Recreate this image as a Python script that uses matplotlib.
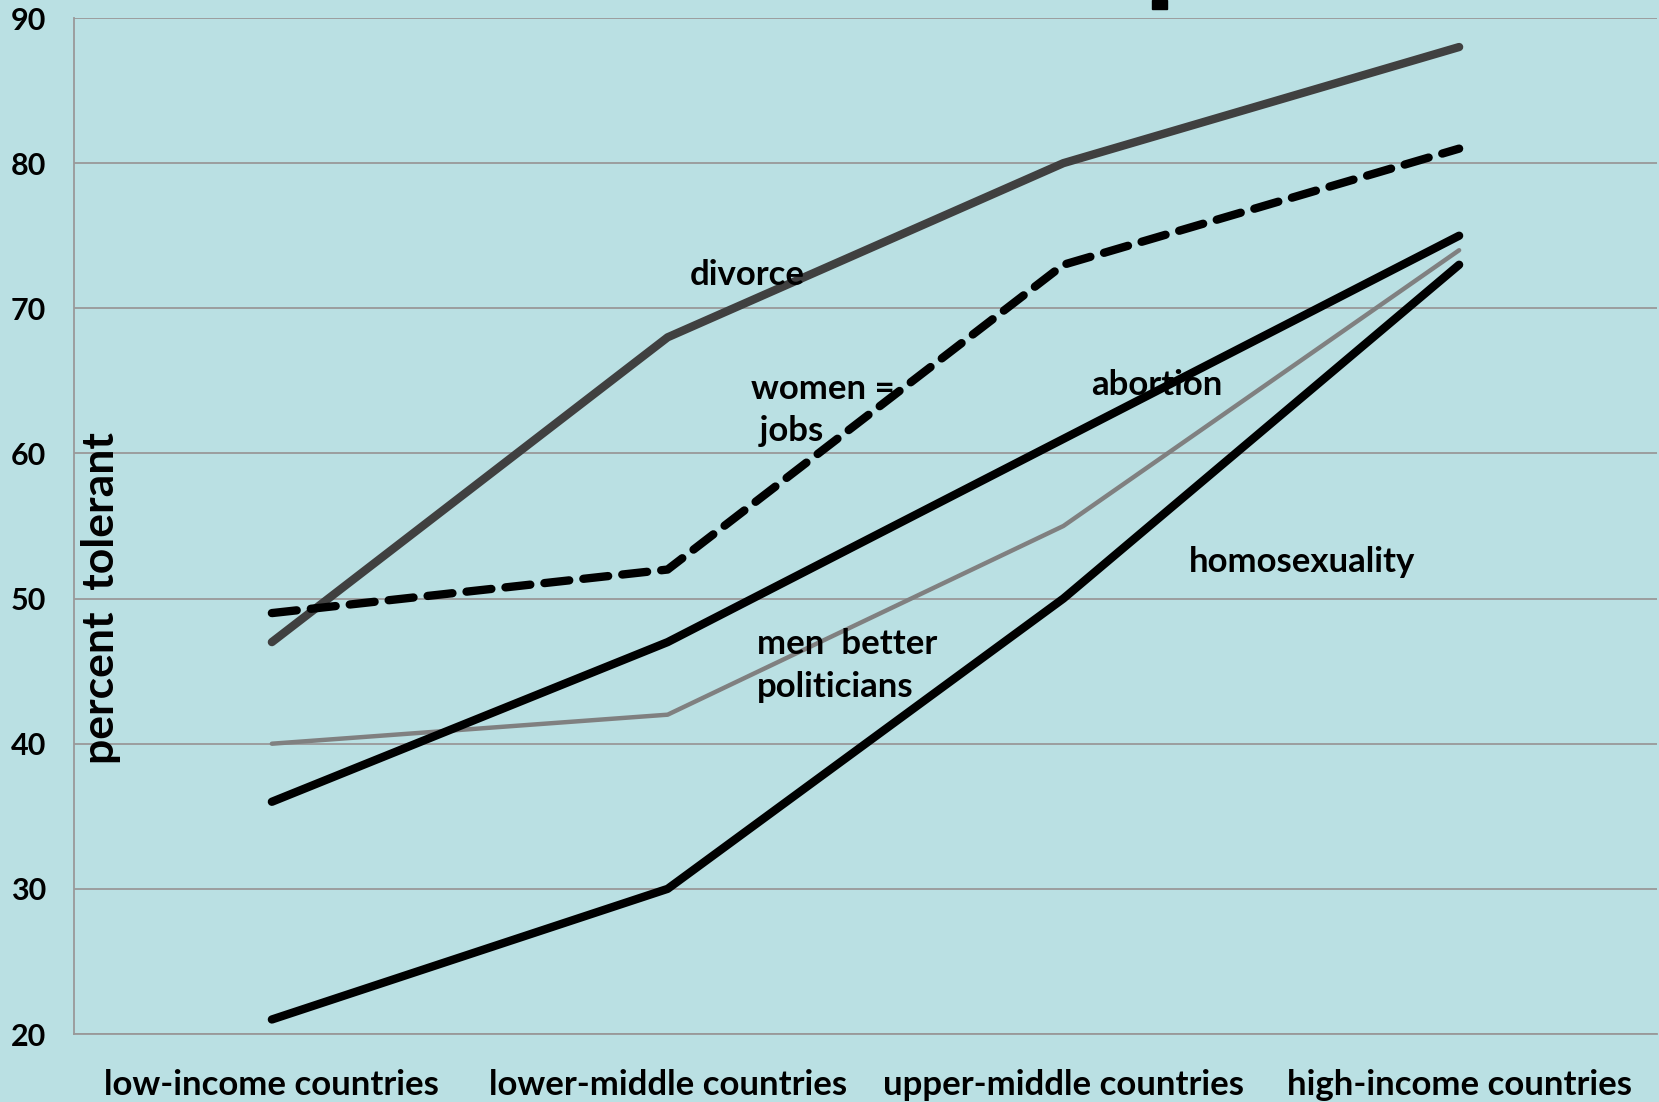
import matplotlib.pyplot as plt
from matplotlib.patches import Rectangle

# data
categories = ["low-income countries", "lower-middle countries",
              "upper-middle countries", "high-income countries"]
divorce = [47, 68, 80, 88]
women_jobs = [49, 52, 73, 81]
men_politicians = [40, 42, 55, 74]
abortion = [36, 47, 61, 75]
homosexuality = [21, 30, 50, 73]
y_ticks = [20, 30, 40, 50, 60, 70, 80, 90]

plt.rcParams['font.family'] = ['Lato', 'DejaVu Sans']
plt.rcParams['font.weight'] = 'bold'

bg = '#bae0e3'
fig = plt.figure(figsize=(16.59, 11.02), dpi=100, facecolor=bg)
ax = fig.add_axes([74 / 1659, 1 - 1034 / 1102, (1657 - 74) / 1659, (1034 - 18) / 1102])
ax.set_facecolor(bg)

x = range(len(categories))
ax.plot(x, divorce, color='#404040', lw=6, solid_capstyle='round', solid_joinstyle='round')
ax.plot(x, women_jobs, color='black', lw=6, dashes=(3.0, 1.7), dash_capstyle='round')
ax.plot(x, men_politicians, color='#808080', lw=3.2, solid_capstyle='round', solid_joinstyle='round')
ax.plot(x, abortion, color='black', lw=6, solid_capstyle='round', solid_joinstyle='round')
ax.plot(x, homosexuality, color='black', lw=6, solid_capstyle='round', solid_joinstyle='round')

ax.set_xlim(-0.5, 3.5)
ax.set_ylim(20, 90)
ax.set_yticks(y_ticks)
ax.set_xticks(list(x))
ax.set_xticklabels(categories, fontsize=25, fontweight='bold')
ax.set_yticklabels([str(v) for v in y_ticks], fontsize=22, fontweight='bold')
ax.tick_params(length=0)
ax.tick_params(axis='y', pad=20)
ax.tick_params(axis='x', pad=25)
ax.grid(axis='y', color='#999999', lw=1.3)
ax.set_axisbelow(True)
for s in ['top', 'right']:
    ax.spines[s].set_visible(False)
for s in ['left', 'bottom']:
    ax.spines[s].set_color('#999999')
    ax.spines[s].set_linewidth(1.3)

ax.set_ylabel("percent  tolerant", fontsize=32, fontweight='bold')
ax.yaxis.set_label_coords(0.030, 0.4286)

# series labels
kw = dict(fontsize=25, fontweight='bold', va='center')
ax.text(1.20, 72.3, "divorce", ha='center', **kw)
ax.text(1.21, 63.0, "women =\n jobs", ha='left', linespacing=1.37, **kw)
ax.text(2.235, 64.7, "abortion", ha='center', **kw)
ax.text(2.604, 52.5, "homosexuality", ha='center', **kw)
ax.text(1.225, 45.4, "men  better\npoliticians", ha='left', linespacing=1.42, **kw)

# cut-off piece of the title at the top edge
fig.patches.append(Rectangle((1152 / 1659, 1 - 9 / 1102), 15 / 1659, 9 / 1102,
                             transform=fig.transFigure, color='black'))

plt.savefig("out.png", dpi=100, facecolor=bg)
